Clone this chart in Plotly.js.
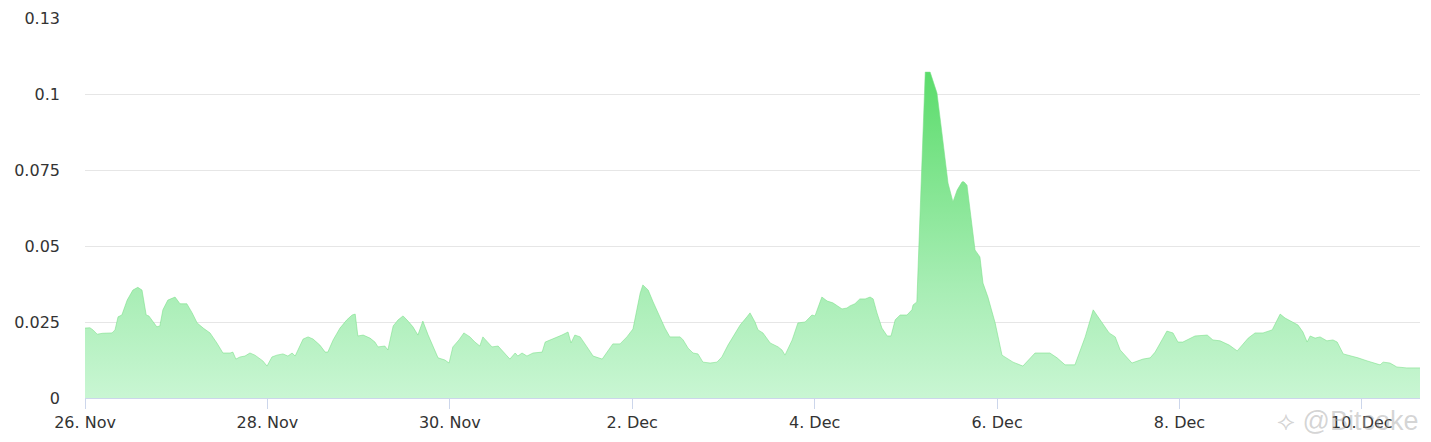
<!DOCTYPE html>
<html>
<head>
<meta charset="utf-8">
<script src="https://cdn.plot.ly/plotly-3.0.1.min.js"></script>
<style>
html,body{margin:0;padding:0;background:#fff;}
#chart{width:1431px;height:442px;}
</style>
</head>
<body>
<div id="chart"></div>
<script>
// hours since 26 Nov 00:00 and the values
var hoursFromStart = [0,1.3,2.1,3.2,4.7,7.1,7.9,8.7,9.7,11.1,12.6,13.9,15.0,16.1,16.8,17.9,18.9,19.7,20.5,21.8,23.7,25.0,26.8,28.2,29.5,31.1,32.9,34.7,36.3,38.2,38.9,39.7,40.8,42.1,43.4,44.7,46.1,46.8,47.9,49.2,50.5,52.1,53.4,54.5,55.3,56.1,57.4,58.7,60.0,61.8,63.2,63.9,65.3,67.1,68.9,70.3,71.1,71.8,73.2,75.0,76.3,77.1,78.9,79.7,81.1,82.4,83.7,85.0,86.3,87.6,88.9,90.3,91.6,92.9,94.7,95.8,96.8,98.4,99.7,101.3,102.6,103.9,104.7,107.1,108.7,110.5,111.8,113.2,113.9,115.0,116.3,117.9,120.3,121.1,123.2,125.5,127.1,127.9,128.9,130.3,132.1,133.7,136.1,137.4,138.9,140.8,142.6,144.2,145.3,146.1,146.8,148.2,149.5,151.3,152.6,153.9,156.6,157.4,158.7,160.0,161.3,162.6,164.5,166.3,167.6,169.2,170.5,172.4,174.2,175.0,176.3,177.1,178.4,180.3,182.4,183.4,184.2,186.1,187.6,189.5,191.3,192.1,193.9,195.3,196.8,199.2,200.5,201.3,202.6,203.9,205.3,206.6,207.4,208.4,209.7,211.1,212.1,213.2,214.5,216.3,217.6,217.9,218.9,220.3,221.1,222.4,223.2,224.2,225.5,227.1,228.4,229.5,230.8,231.3,232.1,233.4,234.2,235.5,236.3,237.6,239.5,241.3,242.9,244.2,246.8,250.0,252.1,253.9,255.8,257.9,260.5,263.2,265.3,267.6,269.5,271.1,272.4,275.5,276.3,278.4,280.3,281.6,283.4,284.7,286.3,287.6,288.9,292.1,295.3,296.8,298.7,301.1,303.2,305.3,306.1,307.9,310.0,312.4,314.5,315.8,317.9,319.2,320.5,321.6,322.4,323.7,325.0,326.8,328.4,329.5,331.1,333.4,335.0,337.4,338.7,340.8,341.6,343.4,345.2,347.8,351.3];
var values = [0.0230,0.0231,0.0224,0.0210,0.0213,0.0214,0.0224,0.0267,0.0273,0.0322,0.0355,0.0364,0.0355,0.0273,0.0270,0.0250,0.0234,0.0237,0.0290,0.0322,0.0332,0.0310,0.0310,0.0280,0.0247,0.0230,0.0214,0.0181,0.0148,0.0148,0.0151,0.0128,0.0135,0.0138,0.0148,0.0141,0.0128,0.0122,0.0105,0.0135,0.0141,0.0145,0.0138,0.0148,0.0138,0.0158,0.0194,0.0201,0.0194,0.0174,0.0151,0.0151,0.0191,0.0230,0.0257,0.0273,0.0276,0.0204,0.0207,0.0197,0.0184,0.0168,0.0171,0.0158,0.0237,0.0257,0.0270,0.0253,0.0234,0.0207,0.0253,0.0207,0.0168,0.0132,0.0125,0.0115,0.0168,0.0191,0.0214,0.0201,0.0184,0.0171,0.0201,0.0168,0.0171,0.0148,0.0128,0.0148,0.0138,0.0148,0.0138,0.0148,0.0151,0.0184,0.0194,0.0207,0.0217,0.0181,0.0207,0.0201,0.0168,0.0138,0.0128,0.0151,0.0178,0.0178,0.0201,0.0227,0.0290,0.0345,0.0372,0.0355,0.0316,0.0267,0.0230,0.0201,0.0201,0.0191,0.0164,0.0148,0.0145,0.0118,0.0115,0.0118,0.0135,0.0174,0.0201,0.0240,0.0267,0.0280,0.0250,0.0224,0.0214,0.0181,0.0168,0.0158,0.0141,0.0191,0.0247,0.0250,0.0273,0.0270,0.0332,0.0319,0.0313,0.0293,0.0296,0.0303,0.0310,0.0326,0.0326,0.0332,0.0326,0.0280,0.0230,0.0204,0.0204,0.0257,0.0273,0.0273,0.0290,0.0306,0.0316,0.0816,0.1072,0.1072,0.1039,0.1003,0.0872,0.0707,0.0645,0.0684,0.0711,0.0711,0.0700,0.0563,0.0487,0.0464,0.0378,0.0332,0.0247,0.0141,0.0128,0.0118,0.0105,0.0148,0.0148,0.0148,0.0132,0.0109,0.0109,0.0201,0.0290,0.0250,0.0214,0.0201,0.0158,0.0115,0.0118,0.0128,0.0132,0.0151,0.0191,0.0220,0.0214,0.0184,0.0184,0.0204,0.0207,0.0191,0.0188,0.0174,0.0155,0.0184,0.0197,0.0214,0.0214,0.0224,0.0276,0.0263,0.0250,0.0240,0.0217,0.0184,0.0204,0.0197,0.0201,0.0188,0.0191,0.0184,0.0145,0.0138,0.0132,0.0122,0.0118,0.0109,0.0118,0.0115,0.0102,0.0099,0.0099,0.0099];
var startDate = Date.UTC(2024, 10, 26, 0, 0, 0);
var yTickVals = [0, 0.025, 0.05, 0.075, 0.1, 0.125];
var yTickText = ['0', '0.025', '0.05', '0.075', '0.1', '0.13'];

function toStr(ms){ return new Date(ms).toISOString().slice(0,19).replace('T',' '); }
var xs = hoursFromStart.map(function(h){ return toStr(startDate + h*3600000); });
var xEnd = toStr(startDate + hoursFromStart[hoursFromStart.length-1]*3600000);

var trace = {
  x: xs, y: values, type: 'scatter', mode: 'lines',
  line: {color: 'rgba(120,222,135,0.7)', width: 0.8},
  fill: 'tozeroy',
  fillgradient: {type: 'vertical', colorscale: [[0, '#c9f6d3'], [0.35, '#a6edb3'], [1, '#5bdc6b']]},
  hoverinfo: 'x+y'
};

var font = {family: 'DejaVu Sans, Verdana, sans-serif', size: 16, color: '#333333'};

var layout = {
  width: 1431, height: 442,
  margin: {l: 85, r: 11, t: 18, b: 44},
  paper_bgcolor: '#ffffff', plot_bgcolor: '#ffffff',
  showlegend: false,
  font: font,
  xaxis: {
    type: 'date',
    range: [toStr(startDate), xEnd],
    tick0: toStr(startDate), dtick: 2*86400000,
    tickformat: '%-d. %b',
    showgrid: false, zeroline: false,
    showline: true, linecolor: '#ccd6eb', linewidth: 1,
    ticks: 'outside', ticklen: 10, tickcolor: '#ccd6eb', tickwidth: 1,
    tickfont: font
  },
  yaxis: {
    range: [0, 0.125],
    tickvals: yTickVals, ticktext: yTickText,
    showgrid: true, gridcolor: '#e6e6e6', gridwidth: 1,
    zeroline: false, showline: false, ticks: '',
    ticklabelstandoff: 24,
    tickfont: font
  },
  annotations: [{
    xref: 'paper', yref: 'paper', x: 1.0, y: 0, yshift: -23,
    xanchor: 'right', yanchor: 'middle', showarrow: false,
    text: '⟡ @Bitcoke',
    font: {family: 'Liberation Sans, Arial, sans-serif', size: 27, color: 'rgba(160,160,160,0.45)'}
  }]
};

Plotly.newPlot('chart', [trace], layout, {displayModeBar: false, staticPlot: true});
</script>
</body>
</html>
